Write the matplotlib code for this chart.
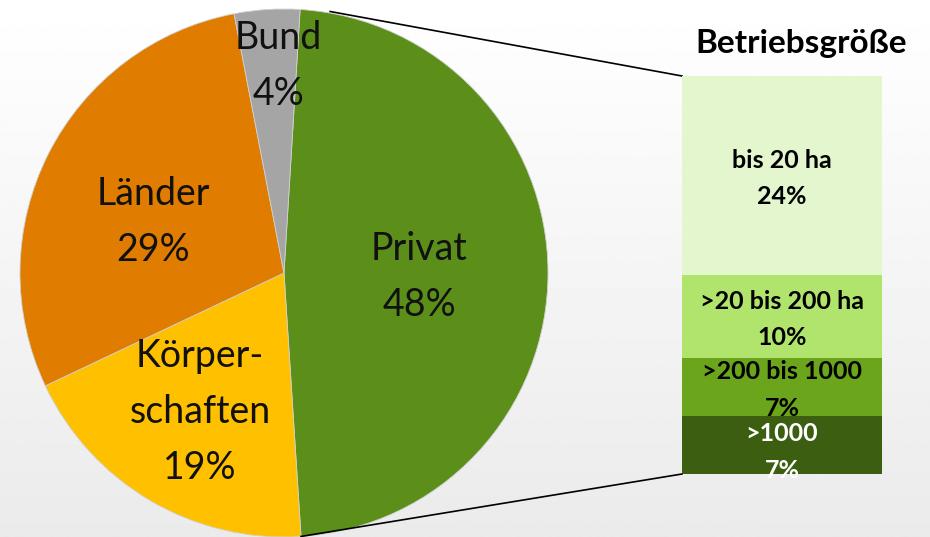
import matplotlib
matplotlib.use('Agg')
import matplotlib.pyplot as plt
import numpy as np
from matplotlib.patches import Rectangle

plt.rcParams['font.family'] = ['Lato', 'DejaVu Sans']

# data
owners = ['Privat', 'Körper-\nschaften', 'Länder', 'Bund']
owner_share = [48, 19, 29, 4]
owner_colors = ['#5B8F1A', '#FFC000', '#E07C00', '#A5A5A5']

sizes = ['>1000', '>200 bis 1000', '>20 bis 200 ha', 'bis 20 ha']
size_share = [7, 7, 10, 24]
size_colors = ['#3C5E11', '#6BA51B', '#B1E46C', '#E3F6CE']
size_text = ['white', 'black', 'black', 'black']

W, H = 930, 537
fig = plt.figure(figsize=(W / 100, H / 100), dpi=100)
ax = fig.add_axes([0, 0, 1, 1])

# pie
cx, cy, r = 284, 264, 264
start = 86.5
wedges, texts = ax.pie(owner_share, colors=owner_colors, startangle=start,
                       counterclock=False, center=(cx, cy), radius=r,
                       labels=None, wedgeprops=dict(linewidth=0.6, edgecolor='#d0d0d0'))
for w in wedges:
    w.set_zorder(2)

# background gradient (white at top, light gray at bottom)
grad = np.linspace(0.92, 1.0, 256).reshape(-1, 1)
ax.imshow(grad, cmap='gray', vmin=0, vmax=1, extent=(0, W, 0, H),
          origin='lower', aspect='auto', zorder=0)

# pie() sets its own limits, so fix them afterwards
ax.set_xlim(0, W)
ax.set_ylim(0, H)
ax.set_aspect('auto')
ax.axis('off')

label_pos = [(419, 277), (200, 412), (153, 222), (278, 66)]
for name, val, (lx, ly) in zip(owners, owner_share, label_pos):
    ax.text(lx, H - ly, f'{name}\n{val}%', ha='center', va='center',
            fontsize=27, linespacing=1.68, color='#111111', zorder=3)

# stacked bar (breakdown of Privat)
bar_x, bar_w = 782, 200
bar_bottom, bar_top = H - 474, H - 76
scale = (bar_top - bar_bottom) / sum(size_share)
bottoms = bar_bottom + scale * np.concatenate([[0], np.cumsum(size_share)[:-1]])
heights = scale * np.array(size_share)

clip = Rectangle((bar_x - bar_w / 2, bar_bottom), bar_w, bar_top - bar_bottom,
                 transform=ax.transData)
# lower segments are drawn above the text of the segment over them
for i in reversed(range(len(sizes))):
    ax.bar(bar_x, heights[i], bottom=bottoms[i], width=bar_w,
           color=size_colors[i], zorder=4 + 2 * (3 - i))
    yc = bottoms[i] + heights[i] / 2 - (7 if i == 0 else 3)
    t = ax.text(bar_x, yc, f'{sizes[i]}\n{size_share[i]}%', ha='center', va='center',
                fontsize=18, fontweight='bold', color=size_text[i],
                linespacing=1.72, zorder=5 + 2 * (3 - i))
    t.set_clip_path(clip)

ax.text(801, H - 44, 'Betriebsgröße', ha='center', va='center',
        fontsize=24, fontweight='bold', color='black', zorder=10)

# connector lines from Privat slice to the bar
end = start - 360 * owner_share[0] / sum(owner_share)
p1 = (cx + r * np.cos(np.radians(start)) + 30, cy + r * np.sin(np.radians(start)) - 2)
p2 = (cx + r * np.cos(np.radians(end)), cy + r * np.sin(np.radians(end)))
ax.plot([p1[0], bar_x - bar_w / 2], [p1[1], bar_top], color='black', lw=1.2, zorder=3)
ax.plot([p2[0], bar_x - bar_w / 2], [p2[1], bar_bottom], color='black', lw=1.2, zorder=3)

fig.savefig('out.png', dpi=100)
